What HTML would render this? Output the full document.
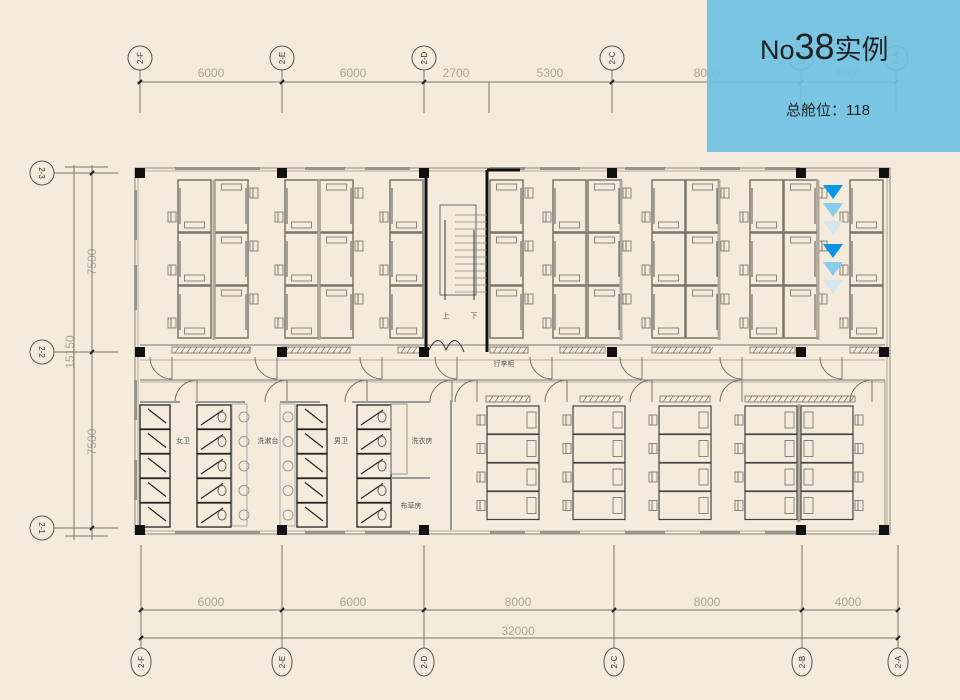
<!DOCTYPE html>
<html><head><meta charset="utf-8"><style>
html,body{margin:0;padding:0;background:#f4ebdc;}
#w{position:relative;width:960px;height:700px;overflow:hidden;background:#f4ebdc;font-family:"Liberation Sans","Noto Sans CJK SC",sans-serif;}
svg{position:absolute;left:0;top:0;}
#box{position:absolute;left:707px;top:0;width:253px;height:152px;background:rgba(112,194,226,0.93);}
#t1{position:absolute;left:760px;top:26px;color:#222;font-size:27px;white-space:nowrap;}
#t1 b{font-weight:normal;font-size:36px;}
#t2{position:absolute;left:786px;top:99px;color:#222;font-size:15px;white-space:nowrap;}
</style></head><body><div id="w">
<svg id="s" width="960" height="700" viewBox="0 0 960 700" font-family="Liberation Sans, Noto Sans CJK SC, sans-serif">
<g fill="#aaa49a" font-size="12" text-anchor="middle">
<text x="211" y="77">6000</text><text x="353" y="77">6000</text><text x="456" y="77">2700</text>
<text x="550" y="77">5300</text><text x="707" y="77">8000</text><text x="848" y="77">4000</text>
<text x="211" y="606">6000</text><text x="353" y="606">6000</text><text x="518" y="606">8000</text>
<text x="707" y="606">8000</text><text x="848" y="606">4000</text><text x="518" y="635">32000</text>
<text transform="translate(96,262) rotate(-90)">7500</text>
<text transform="translate(96,442) rotate(-90)">7500</text>
<text transform="translate(74,352) rotate(-90)">15150</text>
</g>
<g fill="#555" font-size="7" text-anchor="middle">
<text x="183" y="443">女卫</text><text x="268" y="443">洗漱台</text><text x="341" y="443">男卫</text>
<text x="422" y="443">洗衣房</text><text x="411" y="508">布草房</text><text x="504" y="366">行李柜</text>
<text x="446" y="318">上</text><text x="474" y="318">下</text>
</g>
<g id="g"></g>
<g fill="#333" font-size="8" text-anchor="middle">
<text transform="translate(140,58) rotate(-90)" dy="3">2-F</text>
<text transform="translate(282,58) rotate(-90)" dy="3">2-E</text>
<text transform="translate(424,58) rotate(-90)" dy="3">2-D</text>
<text transform="translate(612,58) rotate(-90)" dy="3">2-C</text>
<text transform="translate(801,58) rotate(-90)" dy="3">2-B</text>
<text transform="translate(896,58) rotate(-90)" dy="3">2-A</text>
<text transform="translate(141,662) rotate(-90)" dy="3">2-F</text>
<text transform="translate(282,662) rotate(-90)" dy="3">2-E</text>
<text transform="translate(424,662) rotate(-90)" dy="3">2-D</text>
<text transform="translate(614,662) rotate(-90)" dy="3">2-C</text>
<text transform="translate(802,662) rotate(-90)" dy="3">2-B</text>
<text transform="translate(898,662) rotate(-90)" dy="3">2-A</text>
<text transform="translate(42,173) rotate(90)" dy="3">2-3</text>
<text transform="translate(42,352) rotate(90)" dy="3">2-2</text>
<text transform="translate(42,528) rotate(90)" dy="3">2-1</text>
</g>
</svg>
<div id="box"></div>
<div id="t1">No<b>38</b>实例</div>
<div id="t2">总舱位：118</div>
</div>
<script>
var g=document.getElementById('g'),h='';
function L(a,b,c,d,w,col){h+='<line x1="'+a+'" y1="'+b+'" x2="'+c+'" y2="'+d+'" stroke="'+(col||'#7a756b')+'" stroke-width="'+(w||1)+'"/>';}
function R(x,y,w,hh,f,s,sw){h+='<rect x="'+x+'" y="'+y+'" width="'+w+'" height="'+hh+'" fill="'+(f||'none')+'" stroke="'+(s||'none')+'" stroke-width="'+(sw||1)+'"/>';}
function C(x,y,r){h+='<circle cx="'+x+'" cy="'+y+'" r="'+r+'" fill="#f4ebdc" stroke="#555" stroke-width="1"/>';}
var tx=[140,282,424,612,801,896];
L(137,82,900,82);
tx.forEach(function(x){L(x,70,x,113);C(x,58,12);L(x-2,84,x+2,80,2,'#222');});
L(489,82,489,113);
var bx=[141,282,424,614,802,898];
L(141,610,898,610);L(141,638,898,638);
bx.forEach(function(x){L(x,545,x,648);h+='<ellipse cx="'+x+'" cy="662" rx="10" ry="14" fill="#f4ebdc" stroke="#555"/>';L(x-2,612,x+2,608,2,'#222');});
L(139,640,143,636,2,'#222');L(896,640,900,636,2,'#222');
L(74,165,74,540);L(92,165,92,540);
[173,352,528].forEach(function(y){C(42,y,12);L(54,y,118,y);L(90,y+2,94,y-2,2,'#222');});
L(65,167,108,167);L(65,536,108,536);
R(135,168,755,366,'none','#8a857a',1);R(138,171,749,360,'none','#b0aa9e',1);
[[175,215],[210,260],[305,345],[365,410],[490,525],[540,580],[625,665],[700,740],[765,800]].forEach(function(p){R(p[0],167,p[1]-p[0],3,'#9a958a');R(p[0],531,p[1]-p[0],3,'#9a958a');});
[[190,240],[265,310],[380,420],[460,500]].forEach(function(p){R(134,p[0],3,p[1]-p[0],'#9a958a');});
L(140,345,885,345);L(140,360,885,360,1,'#b5afa3');L(140,382,885,382,1,'#b5afa3');L(140,380,885,380);
[[172,250],[282,350],[398,420],[490,528],[560,605],[652,710],[750,795],[850,880]].forEach(function(p){R(p[0],347,p[1]-p[0],6,'none','#8a857a');for(var x=p[0]+3;x<p[1];x+=6)L(x,353,x+4,347,0.7);});
[[486,530],[580,620],[660,710],[745,855]].forEach(function(p){R(p[0],396,p[1]-p[0],6,'none','#8a857a');for(var x=p[0]+3;x<p[1];x+=6)L(x,402,x+4,396,0.7);});
function D(x,y,r,up){h+='<path d="M'+x+' '+y+' A'+r+' '+r+' 0 0 '+(up?1:0)+' '+(x+r)+' '+(y+(up?-r:r))+'" fill="none" stroke="#7a756b"/>';L(x+r,y,x+r,y+(up?-r:r));}
[150,255,360,435,530,620,720,820].forEach(function(x){D(x,357,22,false);});
[175,265,345,430,455,545,630,720,850].forEach(function(x){D(x,402,22,true);});
function pod(x,y,w,hh,side){R(x,y,w,hh,'none','#7a756b',1.5);R(x+w/2-10,y+(side?hh-10:4),20,6,'none','#8a857a');L(x+(side?2:w-2),y+8,x+(side?2:w-2),y+hh-8,1,'#555');
 var cx=side?x-10:x+w+2;R(cx,y+(side?hh-20:8),8,10,'none','#8a857a');L(cx+3,y+(side?hh-20:8),cx+3,y+(side?hh-10:18));}
var cols=[[178,1],[215,0],[285,1],[320,0],[390,1],[490,0],[553,1],[588,0],[652,1],[686,0],[750,1],[784,0],[850,1]];
cols.forEach(function(c){for(var r=0;r<3;r++)pod(c[0],180+r*53,33,52,c[1]);});
[[213,180,213,340],[318,180,318,340],[620,180,620,340],[718,180,718,340],[817,180,817,340]].forEach(function(l){L(l[0]+1,l[1],l[2]+1,l[3],3,'#b0aa9e');});
L(426,170,426,352,3,'#111');L(487,170,487,352,3,'#111');L(487,170,520,170,3,'#111');
R(440,205,36,90,'none','#666');for(var y=215;y<295;y+=7)L(455,y,487,y,0.8,'#888');
L(445,220,445,300,1,'#333');L(474,230,474,300,1,'#333');
h+='<path d="M428 352 Q438 330 446 350 Q455 330 464 352" fill="none" stroke="#333"/>';
function stall(x,y,w,hh,left){R(x,y,w,hh,'none','#222',1.3);if(left){L(x+8,y+4,x+w-4,y+hh-6,1.2,'#222');}else{L(x+4,y+hh-4,x+w-8,y+5,1.2,'#222');h+='<ellipse cx="'+(x+w-9)+'" cy="'+(y+hh/2)+'" rx="4" ry="5" fill="none" stroke="#666"/>';}}
for(var r=0;r<5;r++){var y=405+r*24.5;stall(140,y,30,24,1);stall(197,y,34,24,0);stall(297,y,30,24,1);stall(357,y,34,24,0);
 h+='<circle cx="244" cy="'+(y+12)+'" r="5" fill="none" stroke="#999"/><circle cx="288" cy="'+(y+12)+'" r="5" fill="none" stroke="#999"/>';}
R(232,404,15,122,'none','#aaa');R(280,404,15,122,'none','#aaa');
L(140,402,180,402,2,'#999');L(195,402,245,402,2,'#999');L(280,402,320,402,2,'#999');L(352,402,430,402,2,'#999');
R(391,404,16,70,'none','#999');L(391,478,430,478,2,'#999');L(451,400,451,530,2,'#999');L(885,380,885,530,1,'#999');
function lp(x,y,side){R(x,y,52,28,'none','#444',1.2);R(side?x+3:x+40,y+6,9,16,'none','#8a857a');var cx=side?x+54:x-10;R(cx,y+9,8,10,'none','#8a857a');L(cx+3,y+9,cx+3,y+19);}
[487,573,659,745].forEach(function(x){for(var r=0;r<4;r++)lp(x,406+r*28.5,0);});
for(var r=0;r<4;r++)lp(801,406+r*28.5,1);
L(799,404,799,522,3,'#b0aa9e');
[173,352,530].forEach(function(y){[140,282,424,612,801,884].forEach(function(x){if(y==530&&x==612)return;R(x-5,y-5,10,10,'#111');});});
function tri(y,c){h+='<polygon points="823,'+y+' 843,'+y+' 833,'+(y+14)+'" fill="'+c+'"/>';}
tri(185,'#0a96e6');tri(203,'#86cdee');tri(221,'#d6e6ee');tri(244,'#0a96e6');tri(262,'#86cdee');tri(280,'#d6e6ee');
g.innerHTML=h;
</script>
</body></html>
